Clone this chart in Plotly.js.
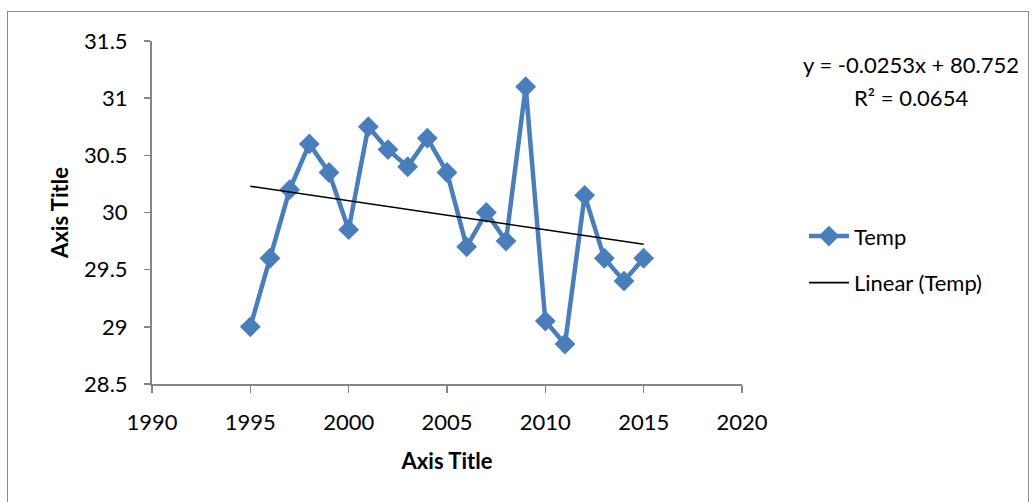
<!DOCTYPE html>
<html>
<head>
<meta charset="utf-8">
<script src="https://cdn.plot.ly/plotly-3.0.1.min.js"></script>
<style>
  html, body { margin: 0; padding: 0; background: #fff; }
  #wrap { position: relative; width: 1035px; height: 502px; overflow: hidden; }
  #frame { position: absolute; left: 7px; top: 11px; width: 1022px; height: 520px; border: 1.5px solid #8c8c8c; box-sizing: border-box; pointer-events: none; }
  #chart { position: absolute; left: 0; top: 0; width: 1035px; height: 502px; }
</style>
</head>
<body>
<div id="wrap">
  <div id="chart"></div>
  <div id="frame"></div>
</div>
<script>
const years = [1995,1996,1997,1998,1999,2000,2001,2002,2003,2004,2005,2006,2007,2008,2009,2010,2011,2012,2013,2014,2015];
const temp  = [29.0,29.6,30.2,30.6,30.35,29.85,30.75,30.55,30.4,30.65,30.35,29.7,30.0,29.75,31.1,29.05,28.85,30.15,29.6,29.4,29.6];
const seriesName = "Temp";
const trendName = "Linear (Temp)";
const equationLine1 = "y = -0.0253x + 80.752";
const equationLine2 = "R² = 0.0654";
const xTicks = [1990,1995,2000,2005,2010,2015,2020];
const yTicks = [28.5,29,29.5,30,30.5,31,31.5];

// least-squares linear fit from the data
const n = years.length;
const mx = years.reduce((a,b)=>a+b,0)/n;
const my = temp.reduce((a,b)=>a+b,0)/n;
let sxy = 0, sxx = 0;
for (let i = 0; i < n; i++) { sxy += (years[i]-mx)*(temp[i]-my); sxx += (years[i]-mx)*(years[i]-mx); }
const slope = sxy/sxx, icpt = my - slope*mx;
const trendX = [years[0], years[n-1]];
const trendY = trendX.map(x => slope*x + icpt);

const font = "Lato, 'Open Sans', 'DejaVu Sans', sans-serif";
const axisColor = "#868686";
const fs = 22;

const data = [
  { x: years, y: temp, name: seriesName, type: "scatter", mode: "lines+markers",
    line: { color: "#4a7ebb", width: 4.5 },
    marker: { symbol: "diamond", size: 16, color: "#4a7ebb" },
    legendgroup: "a" },
  { x: trendX, y: trendY, name: trendName, type: "scatter", mode: "lines",
    line: { color: "#000000", width: 1.6 },
    legendgroup: "b" }
];

const layout = {
  width: 1035, height: 502,
  margin: { l: 152, r: 293, t: 41, b: 118 },
  paper_bgcolor: "rgba(0,0,0,0)", plot_bgcolor: "#fff",
  font: { family: font, size: fs, color: "#000" },
  showlegend: true,
  legend: { x: 1.105, y: 0.492, xanchor: "left", yanchor: "top", bgcolor: "rgba(0,0,0,0)",
            font: { family: font, size: fs, color: "#000" }, tracegroupgap: 15, itemwidth: 40 },
  xaxis: {
    range: [1990, 2020], tickvals: xTicks, ticktext: xTicks.map(String),
    showgrid: false, zeroline: false, showline: true, linecolor: axisColor, linewidth: 2,
    ticks: "outside", ticklen: 7, tickwidth: 1.5, tickcolor: axisColor,
    ticklabelstandoff: 11,
    tickfont: { family: font, size: fs },
    title: { text: "<b>Axis Title</b>", font: { family: font, size: fs }, standoff: 19 }
  },
  yaxis: {
    range: [28.5, 31.5], tickvals: yTicks, ticktext: yTicks.map(String),
    showgrid: false, zeroline: false, showline: true, linecolor: axisColor, linewidth: 2,
    ticks: "outside", ticklen: 6, tickwidth: 1.5, tickcolor: axisColor,
    ticklabelstandoff: 12,
    tickfont: { family: font, size: fs },
    title: { text: "<b>Axis Title</b>", font: { family: font, size: fs }, standoff: 9 }
  },
  annotations: [
    { text: equationLine1, xref: "paper", yref: "paper", x: 1.286, y: (384-64)/343,
      xanchor: "center", yanchor: "middle", showarrow: false,
      font: { family: font, size: fs, color: "#000" } },
    { text: equationLine2, xref: "paper", yref: "paper", x: 1.286, y: (384-98)/343,
      xanchor: "center", yanchor: "middle", showarrow: false,
      font: { family: font, size: fs, color: "#000" } }
  ]
};

Plotly.newPlot("chart", data, layout, { staticPlot: true, displayModeBar: false });
</script>
</body>
</html>
